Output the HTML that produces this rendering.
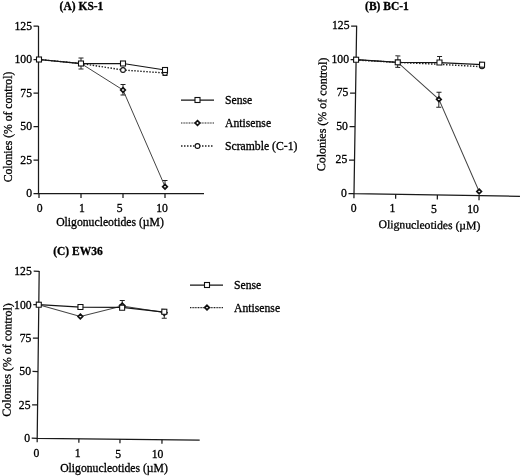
<!DOCTYPE html>
<html><head><meta charset="utf-8">
<style>
html,body{margin:0;padding:0;background:#fff;}
body{width:520px;height:476px;overflow:hidden;}
svg{display:block;filter:blur(0.35px);}
text{font-family:"Liberation Serif",serif;fill:#000;stroke:#000;stroke-width:0.3;}
.t{font-size:11.7px;}
.b{font-size:11.5px;font-weight:bold;}
.ax{stroke:#1a1a1a;stroke-width:1.25;fill:none;}
.sl{stroke:#151515;stroke-width:1.25;fill:none;}
.al{stroke:#444;stroke-width:1;fill:none;}
.all{stroke:#222;stroke-width:1.1;fill:none;stroke-dasharray:1 0.6;}
.dl{stroke:#222;stroke-width:1.4;fill:none;stroke-dasharray:1.5 1.5;}
.eb{stroke:#222;stroke-width:1;fill:none;}
.mk{stroke:#111;stroke-width:1.1;fill:#fff;}
.dm{stroke:#111;stroke-width:1.7;fill:#fff;}
</style></head><body>
<svg width="520" height="476" viewBox="0 0 520 476">
<rect width="520" height="476" fill="#fff"/>

<!-- ================= Panel A ================= -->
<g id="A">
<text class="b" x="81.5" y="10" text-anchor="middle">(A) KS-1</text>
<path class="ax" d="M38.5 26V193.5H204"/>
<path class="ax" d="M33.5 26H38.5M33.5 59.5H38.5M33.5 93H38.5M33.5 126.5H38.5M33.5 160H38.5M33.5 193.5H38.5"/>
<path class="ax" d="M39 193.5V198M81 193.5V198M123 193.5V198M165 193.5V198"/>
<g class="t" text-anchor="end">
<text x="32" y="29.7">125</text><text x="32" y="63.2">100</text><text x="32" y="96.7">75</text>
<text x="32" y="130.2">50</text><text x="32" y="163.7">25</text><text x="32" y="197.2">0</text>
</g>
<g class="t" text-anchor="middle">
<text x="39.6" y="211.6">0</text><text x="81.8" y="211.6">1</text><text x="119.6" y="211.6">5</text><text x="162" y="211.6">10</text>
<text x="110" y="226">Oligonucleotides (µM)</text>
</g>
<text class="t" text-anchor="middle" transform="translate(11.5 127) rotate(-90)">Colonies (% of control)</text>
<!-- lines -->
<path class="dl" d="M39 59.5L81 63.5L123 70L165 73"/>
<path class="al" d="M39 59.5L81 63.5L123 90L165 186.5"/>
<path class="sl" d="M39 59.5L81 63.5L123 63.5L165 70"/>
<!-- error bars -->
<path class="eb" d="M81 58V69M78.5 58H83.5M78.5 69H83.5"/>
<path class="eb" d="M123 84.5V95M120.5 84.5H125.5M120.5 95H125.5"/>
<path class="eb" d="M165 180.5V186M162.5 180.5H167.5"/>
<path class="eb" d="M162.5 75.5H167.5"/>
<!-- markers -->
<circle class="mk" cx="123" cy="70" r="2.4"/><circle class="mk" cx="165" cy="73" r="2.4"/>
<path class="dm" d="M123 87.7L125.3 90L123 92.3L120.7 90Z"/>
<path class="dm" d="M165 184.4L167.3 186.7L165 189L162.7 186.7Z"/>
<rect class="mk" x="36.5" y="57" width="5" height="5"/>
<rect class="mk" x="78.5" y="61" width="5" height="5"/>
<rect class="mk" x="120.5" y="61" width="5" height="5"/>
<rect class="mk" x="162.5" y="67.5" width="5" height="5"/>
<!-- legend -->
<path class="sl" d="M181 100H214"/><rect class="mk" x="195" y="97.5" width="5" height="5"/>
<path class="all" d="M181 123H214"/><path class="dm" d="M197.5 120.7L199.8 123L197.5 125.3L195.2 123Z"/>
<path class="dl" d="M181 146H214"/><circle class="mk" cx="197.5" cy="146" r="2.4"/>
<g class="t"><text x="225" y="103.9">Sense</text><text x="225" y="126.9">Antisense</text><text x="225" y="149.9">Scramble (C-1)</text></g>
</g>

<!-- ================= Panel B ================= -->
<g id="B" transform="translate(0 0.7) rotate(0.9 354 193)">
<path class="ax" d="M354 25V193H520"/>
<path class="ax" d="M348.5 25.5H354M348.5 59H354M348.5 92.5H354M348.5 126H354M348.5 159.5H354M348.5 193H354"/>
<path class="ax" d="M354 193V197.5M395.7 193V197.5M437.4 193V197.5M479.1 193V197.5"/>
<!-- lines -->
<path class="dl" d="M354 59.3L395.7 61L437.4 62.3L480 64"/>
<path class="al" d="M354 59L395.7 61L437.4 97.3L479.1 188.8"/>
<path class="sl" d="M354 59L395.7 61L437.4 60.5L480 62"/>
<path class="eb" d="M395.7 54.5V66M393.2 54.5H398.2M393.2 66H398.2"/>
<path class="eb" d="M437.4 54.5V60M434.9 54.5H439.9"/>
<path class="eb" d="M437.4 90.3V105.3M434.9 90.3H439.9M434.9 105.3H439.9"/>
<path class="dm" d="M437.4 95L439.7 97.3L437.4 99.6L435.1 97.3Z"/>
<path class="dm" d="M479.1 186.5L481.4 188.8L479.1 191.1L476.8 188.8Z"/>
<circle class="mk" cx="480" cy="63.6" r="2.4"/>
<rect class="mk" x="351.5" y="56.5" width="5" height="5"/>
<rect class="mk" x="393.2" y="58.5" width="5" height="5"/>
<rect class="mk" x="434.9" y="58" width="5" height="5"/>
<rect class="mk" x="477.5" y="59.5" width="5" height="5"/>
</g>
<g id="Bt">
<text class="b" x="387" y="10" text-anchor="middle">(B) BC-1</text>
<g class="t" text-anchor="end">
<text x="349.5" y="28.7">125</text><text x="349" y="62.7">100</text><text x="348.4" y="96.2">75</text>
<text x="347.9" y="129.7">50</text><text x="347.3" y="163.2">25</text><text x="346.8" y="196.7">0</text>
</g>
<g class="t" text-anchor="middle">
<text x="353.7" y="211.5">0</text><text x="392.3" y="212">1</text><text x="434" y="212.7">5</text><text x="473" y="213.3">10</text>
<text x="429.5" y="228.8" transform="rotate(0.9 429.5 225)">Olignucleotides (µM)</text>
</g>
<text class="t" style="font-size:12px" text-anchor="middle" transform="translate(326 114.5) rotate(-89.1)">Colonies (% of control)</text>
</g>

<!-- ================= Panel C ================= -->
<g id="C" transform="translate(0.2 0) rotate(0.68 37 438.3)">
<path class="ax" d="M37 271V438.3H199.5"/>
<path class="ax" d="M31.5 271.3H37M31.5 304.7H37M31.5 338.1H37M31.5 371.5H37M31.5 404.9H37M31.5 438.3H37"/>
<path class="ax" d="M37 438.3V442.3M78.7 438.3V442.3M119.8 438.3V442.3M161.8 438.3V442.3"/>
<path class="al" d="M37 304.7L78.7 316L120.4 305L162.6 311"/>
<path class="sl" d="M37 304.7L78.7 306.5L120.4 306.5L162.6 310.7"/>
<path class="eb" d="M120.4 299.5V306M117.9 299.5H122.9"/>
<path class="eb" d="M162.6 311V316.7M160.1 316.7H165.1"/>
<path class="dm" d="M78.7 313.7L81 316L78.7 318.3L76.4 316Z"/>
<path class="dm" d="M120.4 302.2L123 304.8L120.4 307.4L117.8 304.8Z"/><path class="dm" d="M162.6 308.6L165.2 311.2L162.6 313.8L160 311.2Z"/>
<rect class="mk" x="34.5" y="302.2" width="5" height="5"/>
<rect class="mk" x="76.2" y="304" width="5" height="5"/>
<rect class="mk" x="117.9" y="304.2" width="5" height="5"/>
<rect class="mk" x="160.1" y="307.7" width="5" height="5"/>
</g>
<g id="Ct">
<text class="b" x="78" y="255" text-anchor="middle">(C) EW36</text>
<g class="t" text-anchor="end">
<text x="31.8" y="275">125</text><text x="31.6" y="308.5">100</text><text x="31.4" y="342">75</text>
<text x="31" y="375">50</text><text x="30.5" y="408.5">25</text><text x="30" y="442">0</text>
</g>
<g class="t" text-anchor="middle">
<text x="36.5" y="457">0</text><text x="77.7" y="457.2">1</text><text x="118.2" y="458">5</text><text x="157.5" y="458">10</text>
<text x="114" y="472">Oligonucleotides (µM)</text>
</g>
<text class="t" style="font-size:12px" text-anchor="middle" transform="translate(11 360) rotate(-89.4)">Colonies (% of control)</text>
<path class="sl" d="M190 285H223"/><rect class="mk" x="204.5" y="282.5" width="5" height="5"/>
<path class="all" d="M190 307.6H223"/><path class="dm" d="M207 305.3L209.3 307.6L207 309.9L204.7 307.6Z"/>
<g class="t"><text x="234" y="289.2">Sense</text><text x="234" y="311.9">Antisense</text></g>
</g>
</svg>
</body></html>
